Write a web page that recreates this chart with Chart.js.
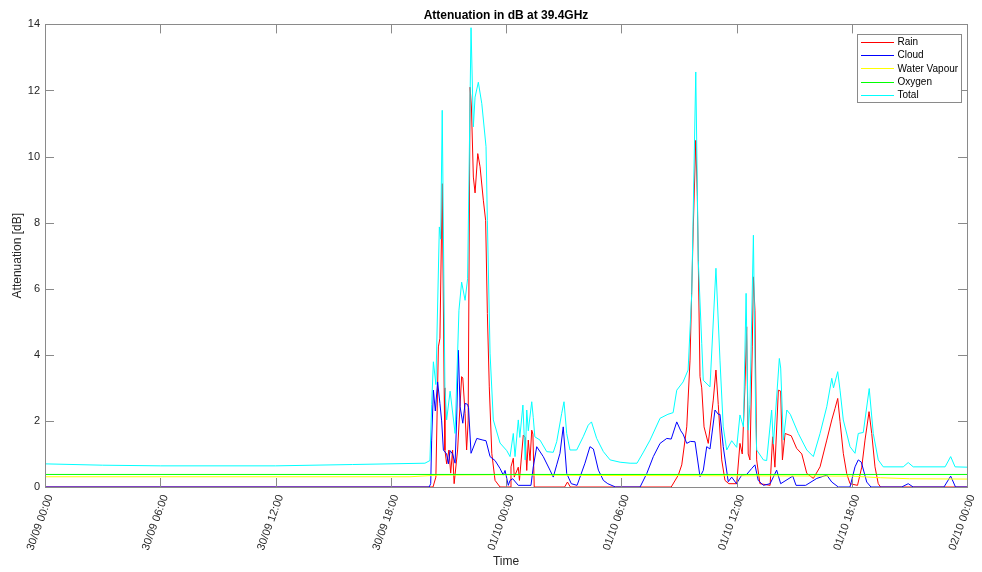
<!DOCTYPE html>
<html>
<head>
  <meta charset="UTF-8" />
  <title>Attenuation in dB at 39.4GHz</title>
  <style>
    body { margin: 0; background: #fff; }
    #wrap { width: 982px; height: 572px; }
  </style>
</head>
<body>
  <div id="wrap"><canvas id="chart" width="982" height="572"></canvas></div>

  <script src="https://cdn.jsdelivr.net/npm/chart.js@4.4.1/dist/chart.umd.min.js"></script>
  <script>
    // time in hours from 30/09 00:00, values in dB
    const xTickLabels = ['30/09 00:00', '30/09 06:00', '30/09 12:00', '30/09 18:00',
      '01/10 00:00', '01/10 06:00', '01/10 12:00', '01/10 18:00', '02/10 00:00'];

    const rainT = [0, 20.2, 20.35, 20.48, 20.56, 20.68, 20.78, 20.82, 20.91, 21.03, 21.12, 21.22, 21.3, 21.48,
      21.69, 21.75, 21.87, 21.95, 22.03, 22.13, 22.2, 22.3, 22.39, 22.53, 22.65, 22.82, 22.94, 23.03, 23.13,
      23.26, 23.43, 23.69, 24.21, 24.26, 24.38, 24.43, 24.64, 24.7, 24.9, 25.0, 25.08, 25.16, 25.25, 25.34,
      25.4, 25.47, 27.05, 27.2, 27.35, 32.6, 32.97, 33.15, 33.41, 33.58, 33.75, 33.88, 33.96, 34.1, 34.19,
      34.31, 34.53, 34.79, 34.93, 35.05, 35.23, 35.4, 35.6, 36.01, 36.18, 36.3, 36.44, 36.53, 36.61, 36.7,
      36.82, 36.88, 36.96, 37.05, 37.22, 37.75, 37.88, 38.0, 38.18, 38.3, 38.39, 38.53, 38.85, 39.13, 39.4,
      39.66, 40.0, 40.35, 40.7, 40.96, 41.13, 41.27, 41.39, 41.56, 41.74, 41.91, 42.3, 42.52, 42.69, 42.9,
      43.04, 43.21, 43.38, 43.5, 48];
    const rainV = [0, 0, 0.3, 4.24, 4.5, 9.18, 3.0, 1.12, 0.7, 1.12, 0.42, 1.12, 0.1, 1.12,
      3.34, 3.3, 2.23, 1.12, 2.0, 12.1, 11.5, 9.38, 8.9, 10.09, 9.69, 8.68, 8.07, 5.25, 3.03,
      1.02, 0.2, 0, 0, 0.61, 0.87, 0.3, 0.6, 0.2, 1.57, 1.5, 0.5, 1.42, 0.8, 1.72,
      1.6, 0, 0, 0.15, 0, 0, 0.36, 0.67, 1.82, 3.84, 7.87, 10.49, 8.8, 3.34, 3.0,
      1.82, 1.32, 2.63, 3.54, 2.5, 0.82, 0.2, 0.1, 0.1, 1.32, 1.0, 3.03, 4.85, 1.0, 0.82,
      4.24, 6.36, 5.35, 0.82, 0.1, 0.05, 1.52, 0.6, 2.93, 2.9, 0.82, 1.62, 1.55, 1.17, 1.0,
      0.41, 0.26, 0.61, 1.42, 2.03, 2.38, 2.68, 1.98, 1.02, 0.4, 0.1, 0.05, 0.6, 1.42, 2.28,
      1.62, 0.61, 0.1, 0, 0];

    const cloudT = [0, 20.0, 20.08, 20.13, 20.22, 20.32, 20.44, 20.56, 20.65, 20.74, 20.91, 21.0, 21.09, 21.22,
      21.35, 21.43, 21.52, 21.61, 21.75, 21.87, 22.0, 22.05, 22.18, 22.48, 22.8, 22.96, 23.17, 23.43, 23.69,
      23.86, 23.95, 24.12, 24.21, 24.35, 24.64, 25.3, 25.42, 25.6, 25.94, 26.29, 26.46, 26.64, 26.81, 26.98,
      27.16, 27.4, 27.7, 28.11, 28.37, 28.55, 28.81, 29.07, 29.3, 29.7, 30.98, 31.33, 31.67, 32.02, 32.37,
      32.6, 32.89, 33.1, 33.22, 33.41, 33.6, 33.84, 34.1, 34.27, 34.45, 34.62, 34.88, 35.05, 35.14, 35.31,
      35.57, 35.75, 36.0, 36.27, 36.53, 36.79, 36.96, 37.13, 37.4, 37.75, 38.09, 38.3, 38.93, 39.1, 39.6,
      40.18, 40.7, 40.96, 41.3, 41.91, 42.17, 42.34, 42.5, 42.78, 43.0, 44.6, 44.94, 45.2, 46.8, 47.15, 47.4, 48];
    const cloudV = [0, 0, 0.1, 1.42, 2.93, 2.3, 3.18, 2.53, 2.0, 1.12, 1.0, 0.7, 1.1, 1.0,
      0.72, 2.03, 4.14, 2.43, 1.93, 2.53, 2.5, 2.4, 1.02, 1.47, 1.42, 1.4, 0.92, 0.8, 0.56,
      0.36, 0.5, 0.05, 0.2, 0.25, 0.05, 0.05, 0.61, 1.22, 0.92, 0.51, 0.3, 0.67, 1.02, 1.82,
      0.41, 0.1, 0.05, 0.72, 1.22, 1.15, 0.51, 0.2, 0.1, 0, 0, 0.41, 0.92, 1.32, 1.47,
      1.45, 1.97, 1.7, 1.6, 1.32, 1.38, 1.37, 0.31, 0.5, 1.22, 1.15, 2.33, 2.2, 2.2, 1.22,
      0.16, 0.3, 0.1, 0.36, 0.38, 0.56, 0.67, 0.2, 0.05, 0.1, 0.51, 0.1, 0.33, 0.05, 0.05,
      0.26, 0.36, 0.15, 0, 0, 0.61, 0.82, 0.75, 0.15, 0, 0, 0.1, 0, 0, 0.33, 0, 0];

    const vapourT = [0, 19, 20.5, 24, 28, 36, 42, 43.5, 45, 48];
    const vapourV = [0.31, 0.31, 0.36, 0.37, 0.35, 0.34, 0.33, 0.28, 0.25, 0.24];

    const oxygenT = [0, 48];
    const oxygenV = [0.38, 0.38];

    const totalT = [0, 3, 6, 12, 16, 19.78, 20.04, 20.13, 20.22, 20.35, 20.53, 20.6, 20.68, 20.82, 20.91, 21.09,
      21.35, 21.55, 21.69, 21.87, 22.0, 22.18, 22.3, 22.39, 22.56, 22.74, 22.96, 23.03, 23.17, 23.34, 23.69,
      24.04, 24.21, 24.38, 24.47, 24.64, 24.72, 24.88, 25.0, 25.08, 25.16, 25.34, 25.42, 25.5, 25.77, 26.12,
      26.46, 26.64, 26.9, 27.02, 27.16, 27.33, 27.68, 28.02, 28.28, 28.45, 28.72, 29.07, 29.42, 29.94, 30.46,
      30.82, 31.13, 31.5, 32.02, 32.43, 32.7, 32.89, 33.22, 33.48, 33.67, 33.88, 34.01, 34.19, 34.27, 34.62,
      34.93, 35.14, 35.31, 35.49, 35.75, 36.01, 36.18, 36.36, 36.5, 36.61, 36.7, 36.88, 37.0, 37.05, 37.4,
      37.57, 37.83, 37.92, 38.23, 38.3, 38.44, 38.62, 38.8, 39.22, 39.5, 39.66, 40.0, 40.35, 40.7, 40.96,
      41.05, 41.27, 41.39, 41.56, 41.91, 42.17, 42.34, 42.6, 42.91, 43.12, 43.38, 43.64, 44.68, 44.94, 45.2,
      46.86, 47.15, 47.38, 48];
    const totalV = [0.70, 0.66, 0.64, 0.64, 0.68, 0.72, 0.80, 2.5, 3.79, 3.1, 7.87, 7.5, 11.4, 3.03, 2.03, 2.9,
      1.62, 5.35, 6.2, 5.65, 6.3, 13.9, 10.9, 11.8, 12.25, 11.6, 10.3, 8.07, 4.05, 2.03, 1.33,
      1.1, 0.92, 1.62, 0.92, 2.03, 1.5, 2.48, 0.82, 2.33, 1.7, 2.58, 2.1, 1.52, 1.42, 1.07,
      1.05, 1.37, 2.23, 2.58, 1.62, 1.12, 1.12, 1.52, 1.87, 1.97, 1.47, 1.07, 0.82, 0.75, 0.72,
      0.72, 1.03, 1.42, 2.08, 2.2, 2.25, 2.93, 3.18, 3.54, 5.86, 12.56, 6.86, 4.35, 3.23, 3.03,
      6.62, 3.84, 1.82, 1.12, 1.4, 1.2, 2.18, 1.82, 5.86, 1.72, 2.5, 7.62, 2.0, 1.12, 0.82,
      0.80, 2.33, 1.3, 3.89, 3.6, 1.42, 2.33, 2.2, 1.62, 1.3, 1.12, 0.92, 1.62, 2.43, 3.29,
      3.0, 3.49, 2.93, 2.03, 1.22, 1.02, 1.62, 1.65, 2.98, 1.62, 0.82, 0.61, 0.61, 0.74, 0.61,
      0.61, 0.92, 0.61, 0.60];

    function pts(t, v) {
      return t.map((x, i) => ({ x: x, y: v[i] }));
    }

    // MATLAB style box with inward ticks on all four sides
    const axesBox = {
      id: 'axesBox',
      afterDatasetsDraw(chart) {
        const { ctx, chartArea: a, scales } = chart;
        const tl = 9;
        ctx.save();
        ctx.strokeStyle = '#8a8a8a';
        ctx.lineWidth = 1;
        ctx.beginPath();
        scales.y.ticks.forEach(t => {
          const y = Math.round(scales.y.getPixelForValue(t.value)) + 0.5;
          ctx.moveTo(a.left, y); ctx.lineTo(a.left + tl, y);
          ctx.moveTo(a.right, y); ctx.lineTo(a.right - tl, y);
        });
        scales.x.ticks.forEach(t => {
          const x = Math.round(scales.x.getPixelForValue(t.value)) + 0.5;
          ctx.moveTo(x, a.bottom); ctx.lineTo(x, a.bottom - tl);
          ctx.moveTo(x, a.top); ctx.lineTo(x, a.top + tl);
        });
        ctx.stroke();
        ctx.strokeRect(Math.round(a.left) + 0.5, Math.round(a.top) + 0.5,
          Math.round(a.right - a.left), Math.round(a.bottom - a.top));
        ctx.restore();
      }
    };

    // legend box in the top right corner of the axes
    const boxLegend = {
      id: 'boxLegend',
      afterDraw(chart) {
        const { ctx, chartArea: a } = chart;
        const sets = chart.data.datasets;
        const w = 104, rowH = 13.4;
        const h = sets.length * rowH + 1;
        const x0 = Math.round(a.right - 6 - w) + 0.5;
        const y0 = Math.round(a.top + 10) + 0.5;
        ctx.save();
        ctx.fillStyle = '#fff';
        ctx.fillRect(x0, y0, w, h);
        ctx.strokeStyle = '#8a8a8a';
        ctx.lineWidth = 1;
        ctx.strokeRect(x0, y0, w, h);
        ctx.font = '10px "Liberation Sans", Arial, sans-serif';
        ctx.textBaseline = 'middle';
        sets.forEach((ds, i) => {
          const y = y0 + 7 + i * rowH;
          ctx.fillStyle = ds.borderColor;
          ctx.fillRect(Math.round(x0 + 3), Math.round(y), 33, 1);
          ctx.fillStyle = '#000';
          ctx.fillText(ds.label, x0 + 40, y + 0.5);
        });
        ctx.restore();
      }
    };

    const line = (label, t, v, color, order) => ({
      label: label,
      data: pts(t, v),
      borderColor: color,
      backgroundColor: color,
      borderWidth: 1,
      pointRadius: 0,
      tension: 0,
      fill: false,
      order: order
    });

    new Chart(document.getElementById('chart').getContext('2d'), {
      type: 'line',
      data: {
        datasets: [
          line('Rain', rainT, rainV, '#ff0000', 4),
          line('Cloud', cloudT, cloudV, '#0000ff', 3),
          line('Water Vapour', vapourT, vapourV, '#ffff00', 2),
          line('Oxygen', oxygenT, oxygenV, '#00ff00', 1),
          line('Total', totalT, totalV, '#00ffff', 0)
        ]
      },
      options: {
        responsive: false,
        animation: false,
        layout: { padding: { left: 0, right: 15, top: 0, bottom: 0 } },
        plugins: {
          legend: { display: false },
          tooltip: { enabled: false },
          title: {
            display: true,
            text: 'Attenuation in dB at 39.4GHz',
            fullSize: false,
            color: '#000',
            font: { family: '"Liberation Sans", Arial, sans-serif', size: 12, weight: 'bold' },
            padding: { top: 8, bottom: 2 }
          }
        },
        scales: {
          x: {
            type: 'linear',
            min: 0,
            max: 48,
            grid: { display: false, drawTicks: false },
            border: { display: false },
            ticks: {
              stepSize: 6,
              autoSkip: false,
              minRotation: 70,
              maxRotation: 70,
              padding: 6,
              labelOffset: 5,
              color: '#262626',
              font: { family: '"Liberation Sans", Arial, sans-serif', size: 11 },
              callback: v => xTickLabels[v / 6]
            },
            title: {
              display: true,
              text: 'Time',
              color: '#262626',
              font: { family: '"Liberation Sans", Arial, sans-serif', size: 12 },
              padding: { top: 0, bottom: 3 }
            },
            afterFit(s) {
              s.height = 85;
              s.paddingLeft = 0;
              s.paddingRight = 0;
            }
          },
          y: {
            min: 0,
            max: 14,
            grid: { display: false, drawTicks: false },
            border: { display: false },
            ticks: {
              stepSize: 2,
              padding: 5,
              color: '#262626',
              font: { family: '"Liberation Sans", Arial, sans-serif', size: 11 }
            },
            title: {
              display: true,
              text: 'Attenuation [dB]',
              color: '#262626',
              font: { family: '"Liberation Sans", Arial, sans-serif', size: 12 },
              padding: { top: 10, bottom: 0 }
            },
            afterFit(s) { s.width = 45; }
          }
        }
      },
      plugins: [axesBox, boxLegend]
    });
  </script>
</body>
</html>
